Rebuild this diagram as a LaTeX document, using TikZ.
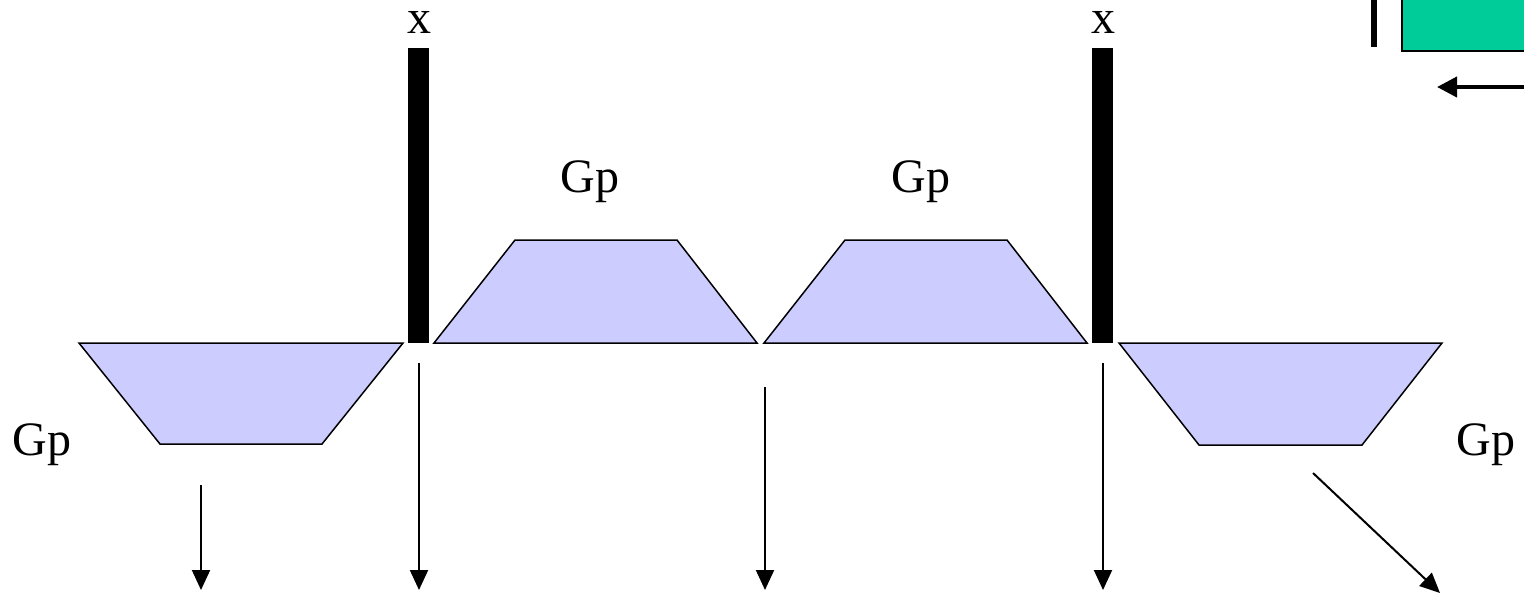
\documentclass[tikz,border=0pt]{standalone}
\usepackage{fontspec}
\setmainfont{Liberation Serif}
\usetikzlibrary{arrows.meta}
\definecolor{trapfill}{HTML}{CCCCFF}
\definecolor{greenbox}{HTML}{00CC99}
\tikzset{
  trap/.style={draw=black, fill=trapfill, line width=0.75pt, line join=miter},
  barstyle/.style={fill=black, draw=none},
  lbl/.style={anchor=base, inner sep=0pt, font=\fontsize{24}{28}\selectfont},
  arr/.style={line width=1pt, -{Triangle[length=10pt,width=9pt]}},
  thickarr/.style={line width=2pt, -{Triangle[length=10pt,width=10pt]}}
}
\begin{document}
\begin{tikzpicture}[x=0.5pt,y=-0.5pt]
\useasboundingbox (0,0) rectangle (1524,595);
% bars
\fill[barstyle] (408,48) rectangle (429,343);
\fill[barstyle] (1092,48) rectangle (1113,343);
\node[lbl] (x1) at (419,33) {x};
\node[lbl] (x2) at (1103,33) {x};
% trapezoids
\draw[trap] (434,343) -- (515,240) -- (677,240) -- (757,343) -- cycle;
\draw[trap] (764,343) -- (845,240) -- (1007,240) -- (1087,343) -- cycle;
\draw[trap] (79,343) -- (403,343) -- (322,444) -- (160,444) -- cycle;
\draw[trap] (1119,343) -- (1442,343) -- (1362,445) -- (1199,445) -- cycle;
% labels
\node[lbl] (gp1) at (590,192) {Gp};
\node[lbl] (gp2) at (921,192) {Gp};
\node[lbl] (gp3) at (42,455) {Gp};
\node[lbl] (gp4) at (1486,455) {Gp};
% arrows
\coordinate (a1s) at (201,485); \coordinate (a1e) at (201,590);
\coordinate (a2s) at (419,363); \coordinate (a2e) at (419,590);
\coordinate (a3s) at (765,387); \coordinate (a3e) at (765,590);
\coordinate (a4s) at (1103,363); \coordinate (a4e) at (1103,590);
\coordinate (a5s) at (1313,473); \coordinate (a5e) at (1440,593);
\draw[arr] (a1s) -- (a1e);
\draw[arr] (a2s) -- (a2e);
\draw[arr] (a3s) -- (a3e);
\draw[arr] (a4s) -- (a4e);
\draw[arr] (a5s) -- (a5e);
% top right
\fill[barstyle] (1371,0) rectangle (1377,47);
\draw[fill=greenbox, draw=black, line width=1pt] (1402,-5) rectangle (1530,51);
\coordinate (ts) at (1524,87); \coordinate (te) at (1437,87);
\draw[thickarr] (ts) -- (te);
\end{tikzpicture}
\end{document}
